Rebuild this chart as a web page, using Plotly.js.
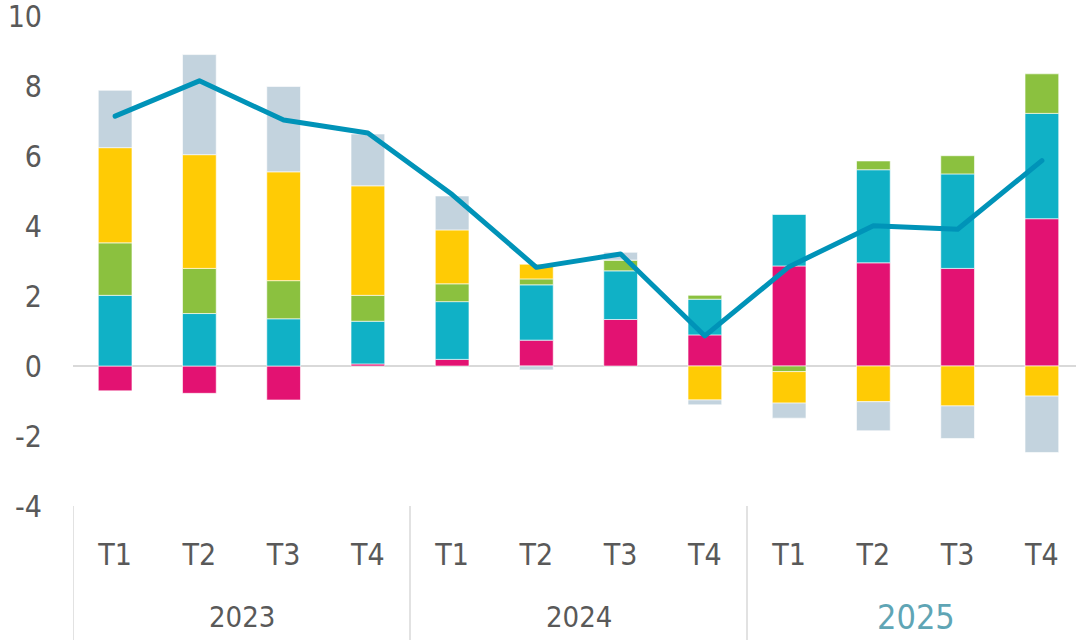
<!DOCTYPE html>
<html>
<head>
<meta charset="utf-8">
<script src="https://cdn.plot.ly/plotly-3.0.1.min.js"></script>
<style>
  html, body { margin: 0; padding: 0; background: #fff; }
  #chart { width: 1076px; height: 640px; }
  .scatterlayer path.js-line { stroke-linecap: round; stroke-linejoin: round; }
</style>
</head>
<body>
<div id="chart"></div>
<script>
// ---- Data ----
const years = ["2023", "2024", "2025"];
const quarters = ["T1", "T2", "T3", "T4"];
const categories = [];
const quarterLabels = [];
years.forEach(y => quarters.forEach(q => { categories.push(y + " " + q); quarterLabels.push(q); }));

const seriesMagenta = [-0.71, -0.78, -0.97, 0.06, 0.19, 0.74, 1.33, 0.89, 2.86, 2.95, 2.79, 4.21];
const seriesTeal    = [2.02, 1.50, 1.35, 1.22, 1.65, 1.58, 1.39, 1.02, 1.47, 2.66, 2.70, 3.01];
const seriesGreen   = [1.50, 1.29, 1.09, 0.74, 0.51, 0.17, 0.31, 0.11, -0.16, 0.25, 0.52, 1.13];
const seriesYellow  = [2.72, 3.25, 3.11, 3.13, 1.54, 0.42, 0.00, -0.97, -0.90, -1.02, -1.14, -0.86];
const seriesGrey    = [1.64, 2.86, 2.44, 1.48, 0.97, -0.11, 0.22, -0.14, -0.43, -0.83, -0.93, -1.61];
const totalLine     = [7.14, 8.15, 7.03, 6.66, 4.90, 2.82, 3.20, 0.86, 2.84, 4.01, 3.91, 5.87];

const yTicks = [-4, -2, 0, 2, 4, 6, 8, 10];
const yTickLabels = ["-4", "-2", "0", "2", "4", "6", "8", "10"];

// ---- Styles ----
const FONT = '"Liberation Sans Narrow", "Arial Narrow", "DejaVu Sans Condensed", sans-serif';
const TXT = '#595959';
const colors = { magenta: '#E31272', teal: '#10B1C6', green: '#8BC13F', yellow: '#FFCB05', grey: '#C3D3DE', line: '#0093B8' };
const barLine = { color: 'rgba(255,255,255,0.6)', width: 1 };

function barTrace(vals, color) {
  return { type: 'bar', x: categories, y: vals, width: 0.4,
           marker: { color: color, line: barLine }, hoverinfo: 'skip', showlegend: false };
}

const traces = [
  barTrace(seriesMagenta, colors.magenta),
  barTrace(seriesTeal, colors.teal),
  barTrace(seriesGreen, colors.green),
  barTrace(seriesYellow, colors.yellow),
  barTrace(seriesGrey, colors.grey),
  { type: 'scatter', mode: 'lines', x: categories, y: totalLine,
    line: { color: colors.line, width: 5 }, hoverinfo: 'skip', showlegend: false }
];

const H = 640, T = 14, B = 134;
const plotH = H - T - B;

const shapes = [];
const annotations = [];
years.forEach((y, i) => {
  const start = i * quarters.length - 0.5;
  shapes.push({ type: 'line', xref: 'x', yref: 'paper', x0: start, x1: start,
                y0: 0, y1: -B / plotH, line: { color: '#D9D9D9', width: 1.5 } });
  const last = i === years.length - 1;
  annotations.push({ xref: 'x', yref: 'paper', x: start + quarters.length / 2, y: -(617 - (H - B)) / plotH,
                     yanchor: 'middle', xanchor: 'center', showarrow: false, text: y,
                     font: { family: FONT, size: last ? 34 : 29, color: last ? '#5FA5B5' : TXT } });
});

const layout = {
  width: 1076, height: 640,
  margin: { l: 73, r: 0, t: T, b: B, pad: 0 },
  paper_bgcolor: '#fff', plot_bgcolor: '#fff',
  barmode: 'relative', bargap: 0.6,
  font: { family: FONT, color: TXT, size: 30 },
  xaxis: { type: 'category', range: [-0.5, 11.405], tickvals: categories, ticktext: quarterLabels,
           showgrid: false, zeroline: false, showline: false, ticks: '', ticklabelstandoff: 28,
           tickfont: { family: FONT, size: 30, color: TXT }, fixedrange: true },
  yaxis: { range: [-4, 10.06], tickvals: yTicks, ticktext: yTickLabels, showgrid: false, zeroline: true,
           zerolinecolor: '#D9D9D9', zerolinewidth: 2, showline: false, ticks: '',
           ticklabeloverflow: 'allow',
           ticklabelstandoff: 30, tickfont: { family: FONT, size: 30, color: TXT }, fixedrange: true },
  shapes: shapes,
  annotations: annotations
};

Plotly.newPlot('chart', traces, layout, { displayModeBar: false, staticPlot: true });
</script>
</body>
</html>
